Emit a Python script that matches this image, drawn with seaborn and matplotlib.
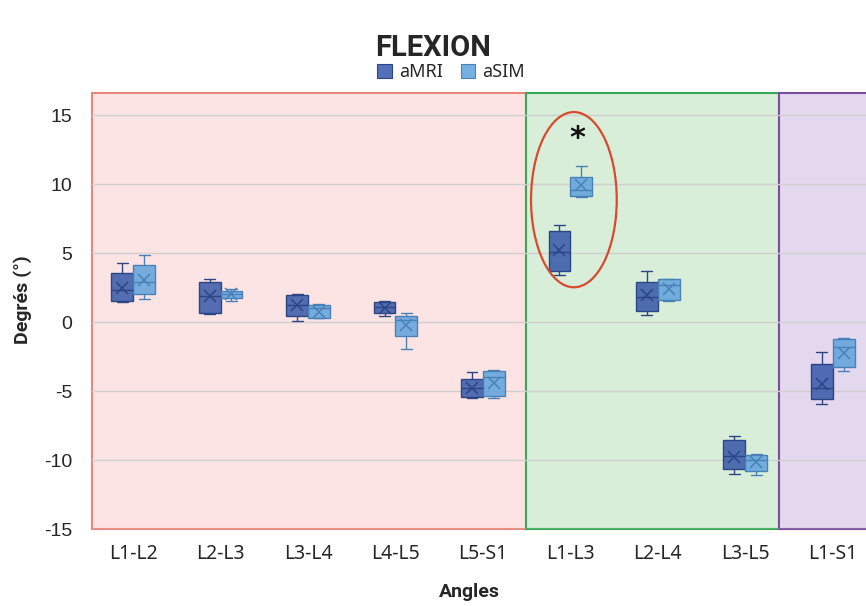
import numpy as np
import pandas as pd
import matplotlib
matplotlib.use("Agg")
import matplotlib.pyplot as plt
import seaborn as sns
from matplotlib.patches import Rectangle, Ellipse, Patch
from matplotlib.colors import to_rgba

# catégories (angles intervertébraux) et séries
angles = ["L1-L2", "L2-L3", "L3-L4", "L4-L5", "L5-S1", "L1-L3", "L2-L4", "L3-L5", "L1-S1"]
series = ["aMRI", "aSIM"]

# aMRI : min / q1 / médiane / q3 / max / moyenne
amri_min = [1.43, 0.58, 0.07, 0.43, -5.53, 3.41, 0.49, -11.01, -5.96]
amri_q1 = [1.52, 0.67, 0.46, 0.63, -5.41, 3.72, 0.80, -10.67, -5.60]
amri_med = [2.3, 1.9, 1.2, 1.1, -4.8, 5.1, 1.8, -9.7, -4.8]
amri_q3 = [3.53, 2.92, 1.93, 1.47, -4.15, 6.59, 2.88, -8.55, -3.07]
amri_max = [4.28, 3.12, 2.03, 1.54, -3.60, 7.03, 3.67, -8.24, -2.20]
amri_mean = [2.46, 1.88, 1.23, 1.04, -4.80, 5.22, 1.96, -9.76, -4.49]

# aSIM
asim_min = [1.69, 1.54, 0.27, -1.98, -5.53, 9.08, 1.56, -11.09, -3.55]
asim_q1 = [2.00, 1.72, 0.31, -1.01, -5.36, 9.13, 1.62, -10.78, -3.28]
asim_med = [2.9, 2.0, 0.99, 0.14, -4.0, 9.6, 2.68, -10.0, -1.83]
asim_q3 = [4.15, 2.27, 1.23, 0.43, -3.55, 10.53, 3.12, -9.64, -1.25]
asim_max = [4.88, 2.37, 1.33, 0.63, -3.50, 11.30, 3.15, -9.60, -1.14]
asim_mean = [3.04, 2.00, 0.75, -0.22, -4.44, 9.90, 2.37, -10.17, -2.27]

# tableau long : 5 valeurs par boîte -> quartiles exacts
rows = []
for s, cols in [("aMRI", (amri_min, amri_q1, amri_med, amri_q3, amri_max)),
                ("aSIM", (asim_min, asim_q1, asim_med, asim_q3, asim_max))]:
    for i, a in enumerate(angles):
        for c in cols:
            rows.append({"angle": a, "serie": s, "deg": c[i]})
df = pd.DataFrame(rows)

df_mean = pd.DataFrame({
    "angle": angles * 2,
    "serie": ["aMRI"] * len(angles) + ["aSIM"] * len(angles),
    "deg": amri_mean + asim_mean,
})

fills = {"aMRI": "#3657aa", "aSIM": "#5ea2dc"}
edges = {"aMRI": "#2b4683", "aSIM": "#4a80b8"}

sns.set_theme(style="white")
plt.rcParams['font.family'] = ['Noto Sans', 'DejaVu Sans']
plt.rcParams['axes.unicode_minus'] = False

fig = plt.figure(figsize=(8.66, 6.06), dpi=100)
ax = fig.add_axes([92 / 866, 77 / 606, 774 / 866, 436 / 606])

# zones colorées (fond)
zones = [(-0.47, 4.49, "#fde4e4", "#e8877e"),
         (4.49, 7.39, "#d9eed9", "#36a955"),
         (7.39, 9.5, "#e4d8ee", "#7a4c9c")]
for x0, x1, fc, ec in zones:
    ax.add_patch(Rectangle((x0, 0), x1 - x0, 1, transform=ax.get_xaxis_transform(),
                           facecolor=fc, edgecolor=ec, lw=1.5, zorder=0.1, clip_on=False))

# boîtes, une série à la fois pour avoir la couleur du contour
for s in series:
    n0 = len(ax.patches)
    sns.boxplot(data=df[df.serie == s], x="angle", y="deg", hue="serie",
                order=angles, hue_order=series, palette=fills, dodge=True,
                width=0.5, gap=0, whis=(0, 100), showfliers=False, saturation=1,
                linecolor=edges[s], linewidth=1.0, legend=False, ax=ax)
    for p in ax.patches[n0:]:
        p.set_facecolor(to_rgba(fills[s], 0.85))

# moyennes (croix)
sns.pointplot(data=df_mean, x="angle", y="deg", hue="serie", order=angles,
              hue_order=series, palette=edges, dodge=0.25, errorbar=None,
              markers="x", linestyle="none", markersize=9, markeredgewidth=1.1,
              legend=False, zorder=6, ax=ax)

# annotation
ax.add_patch(Ellipse((5.04, 8.87), 0.98, 12.7, fill=False, edgecolor="#d84a2e",
                     lw=1.6, zorder=7))
ax.text(5.08, 13.3, "*", fontsize=22, fontweight="bold", ha="center", va="center",
        color="#111111", zorder=7, family="DejaVu Sans")

ax.set_xlim(-0.47, 8.38)
ax.set_ylim(-15, 16.6)
ax.set_yticks(range(-15, 16, 5))
ax.set_axisbelow(True)
ax.grid(axis="y", color="#cfcfcf", lw=1)
ax.grid(axis="x", visible=False)
for sp in ax.spines.values():
    sp.set_visible(False)
ax.set_facecolor("none")

ax.tick_params(axis="both", length=0)
ax.tick_params(axis="y", pad=14, labelsize=14)
ax.tick_params(axis="x", pad=11, labelsize=14)
for t in ax.get_yticklabels():
    t.set_family("Liberation Sans")

ax.set_xlabel("Angles", fontsize=14, fontweight="bold", family="Roboto")
ax.set_ylabel("Degrés (°)", fontsize=14, fontweight="bold", family="Roboto")
ax.xaxis.set_label_coords(0.487, -0.123)
ax.yaxis.set_label_coords(-0.078, 0.525)

fig.text(433 / 866, 1 - 56 / 606, "FLEXION", ha="center", va="baseline",
         fontsize=21, fontweight="bold", family="Roboto")

handles = [Patch(facecolor=to_rgba(fills[s], 0.85), edgecolor=edges[s], lw=0.8, label=s)
           for s in series]
fig.legend(handles=handles, loc="center", bbox_to_anchor=(451 / 866, 1 - 72 / 606),
           ncol=2, frameon=False, fontsize=13, handlelength=0.8, handleheight=0.8,
           handletextpad=0.4, columnspacing=1.0, borderpad=0.1)

fig.savefig("out.png", dpi=100)
